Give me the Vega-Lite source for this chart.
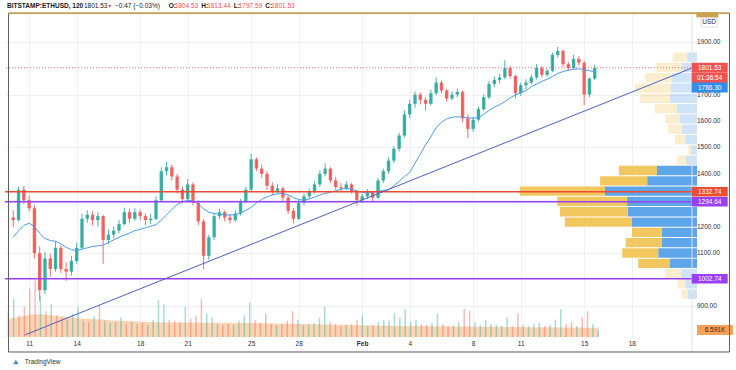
{
  "$schema": "https://vega.github.io/schema/vega-lite/v6.json",
  "width": 692,
  "height": 324,
  "autosize": {"type": "none"},
  "padding": {"left": 5, "top": 13, "right": 39, "bottom": 33},
  "background": "white",
  "config": {"view": {"stroke": null}, "font": "Liberation Sans", "text": {"font": "Liberation Sans"}, "axis": {"labelOverlap": false}},
  "datasets": {
    "candles": [
      {"t":"2021-01-10T00:00","o":1235,"h":1262,"l":1198,"c":1225,"v":22,"ma":1160,"vma":16.5},
      {"t":"2021-01-10T08:00","o":1225,"h":1352,"l":1220,"c":1340,"v":35,"ma":1185,"vma":17.5},
      {"t":"2021-01-10T16:00","o":1340,"h":1355,"l":1285,"c":1300,"v":20,"ma":1205,"vma":18.5},
      {"t":"2021-01-11T00:00","o":1300,"h":1318,"l":1258,"c":1270,"v":28,"ma":1213,"vma":19.5},
      {"t":"2021-01-11T08:00","o":1270,"h":1282,"l":1080,"c":1100,"v":45,"ma":1200,"vma":20.5},
      {"t":"2021-01-11T16:00","o":1100,"h":1125,"l":920,"c":960,"v":52,"ma":1175,"vma":21},
      {"t":"2021-01-12T00:00","o":960,"h":1105,"l":945,"c":1080,"v":38,"ma":1155,"vma":21},
      {"t":"2021-01-12T08:00","o":1080,"h":1098,"l":1010,"c":1040,"v":24,"ma":1148,"vma":20.5},
      {"t":"2021-01-12T16:00","o":1040,"h":1145,"l":1030,"c":1120,"v":30,"ma":1145,"vma":20},
      {"t":"2021-01-13T00:00","o":1120,"h":1130,"l":1025,"c":1040,"v":20,"ma":1135,"vma":19.5},
      {"t":"2021-01-13T08:00","o":1040,"h":1065,"l":995,"c":1030,"v":18,"ma":1122,"vma":19},
      {"t":"2021-01-13T16:00","o":1030,"h":1090,"l":1015,"c":1070,"v":16,"ma":1113,"vma":18.5},
      {"t":"2021-01-14T00:00","o":1070,"h":1140,"l":1060,"c":1120,"v":22,"ma":1110,"vma":18},
      {"t":"2021-01-14T08:00","o":1120,"h":1250,"l":1115,"c":1230,"v":28,"ma":1115,"vma":17.5},
      {"t":"2021-01-14T16:00","o":1230,"h":1262,"l":1215,"c":1245,"v":15,"ma":1120,"vma":17},
      {"t":"2021-01-15T00:00","o":1245,"h":1258,"l":1205,"c":1225,"v":14,"ma":1125,"vma":16.8},
      {"t":"2021-01-15T08:00","o":1225,"h":1255,"l":1200,"c":1240,"v":19,"ma":1128,"vma":16.5},
      {"t":"2021-01-15T16:00","o":1240,"h":1245,"l":1060,"c":1150,"v":30,"ma":1130,"vma":16.2},
      {"t":"2021-01-16T00:00","o":1150,"h":1190,"l":1135,"c":1170,"v":15,"ma":1140,"vma":16},
      {"t":"2021-01-16T08:00","o":1170,"h":1200,"l":1155,"c":1185,"v":13,"ma":1150,"vma":15.6},
      {"t":"2021-01-16T16:00","o":1185,"h":1225,"l":1175,"c":1210,"v":14,"ma":1160,"vma":15.2},
      {"t":"2021-01-17T00:00","o":1210,"h":1272,"l":1205,"c":1255,"v":18,"ma":1168,"vma":15},
      {"t":"2021-01-17T08:00","o":1255,"h":1268,"l":1215,"c":1230,"v":12,"ma":1176,"vma":14.8},
      {"t":"2021-01-17T16:00","o":1230,"h":1270,"l":1222,"c":1255,"v":14,"ma":1185,"vma":14.5},
      {"t":"2021-01-18T00:00","o":1255,"h":1265,"l":1225,"c":1240,"v":12,"ma":1190,"vma":14.3},
      {"t":"2021-01-18T08:00","o":1240,"h":1250,"l":1205,"c":1225,"v":13,"ma":1196,"vma":14},
      {"t":"2021-01-18T16:00","o":1225,"h":1248,"l":1210,"c":1230,"v":11,"ma":1202,"vma":13.8},
      {"t":"2021-01-19T00:00","o":1230,"h":1315,"l":1225,"c":1300,"v":16,"ma":1208,"vma":13.7},
      {"t":"2021-01-19T08:00","o":1300,"h":1425,"l":1295,"c":1410,"v":34,"ma":1225,"vma":13.6},
      {"t":"2021-01-19T16:00","o":1410,"h":1445,"l":1395,"c":1425,"v":30,"ma":1245,"vma":13.6},
      {"t":"2021-01-20T00:00","o":1425,"h":1435,"l":1375,"c":1390,"v":16,"ma":1265,"vma":13.5},
      {"t":"2021-01-20T08:00","o":1390,"h":1400,"l":1325,"c":1340,"v":15,"ma":1284,"vma":13.5},
      {"t":"2021-01-20T16:00","o":1340,"h":1352,"l":1290,"c":1305,"v":14,"ma":1294,"vma":13.5},
      {"t":"2021-01-21T00:00","o":1305,"h":1380,"l":1298,"c":1360,"v":28,"ma":1300,"vma":13.4},
      {"t":"2021-01-21T08:00","o":1360,"h":1368,"l":1280,"c":1290,"v":17,"ma":1298,"vma":13.4},
      {"t":"2021-01-21T16:00","o":1290,"h":1300,"l":1205,"c":1220,"v":20,"ma":1285,"vma":13.3},
      {"t":"2021-01-22T00:00","o":1220,"h":1228,"l":1040,"c":1090,"v":35,"ma":1268,"vma":13.3},
      {"t":"2021-01-22T08:00","o":1090,"h":1170,"l":1075,"c":1160,"v":22,"ma":1255,"vma":13.3},
      {"t":"2021-01-22T16:00","o":1160,"h":1252,"l":1150,"c":1240,"v":18,"ma":1250,"vma":13.2},
      {"t":"2021-01-23T00:00","o":1240,"h":1268,"l":1228,"c":1255,"v":12,"ma":1247,"vma":13.2},
      {"t":"2021-01-23T08:00","o":1255,"h":1262,"l":1220,"c":1235,"v":11,"ma":1245,"vma":13.2},
      {"t":"2021-01-23T16:00","o":1235,"h":1248,"l":1212,"c":1225,"v":12,"ma":1244,"vma":13.1},
      {"t":"2021-01-24T00:00","o":1225,"h":1262,"l":1218,"c":1250,"v":11,"ma":1245,"vma":13.1},
      {"t":"2021-01-24T08:00","o":1250,"h":1305,"l":1242,"c":1295,"v":15,"ma":1252,"vma":13},
      {"t":"2021-01-24T16:00","o":1295,"h":1352,"l":1288,"c":1340,"v":20,"ma":1262,"vma":13},
      {"t":"2021-01-25T00:00","o":1340,"h":1475,"l":1335,"c":1455,"v":32,"ma":1273,"vma":13},
      {"t":"2021-01-25T08:00","o":1455,"h":1462,"l":1410,"c":1420,"v":16,"ma":1290,"vma":12.9},
      {"t":"2021-01-25T16:00","o":1420,"h":1435,"l":1385,"c":1400,"v":13,"ma":1303,"vma":12.8},
      {"t":"2021-01-26T00:00","o":1400,"h":1410,"l":1340,"c":1355,"v":22,"ma":1313,"vma":12.7},
      {"t":"2021-01-26T08:00","o":1355,"h":1368,"l":1320,"c":1335,"v":12,"ma":1320,"vma":12.6},
      {"t":"2021-01-26T16:00","o":1335,"h":1362,"l":1325,"c":1345,"v":11,"ma":1324,"vma":12.5},
      {"t":"2021-01-27T00:00","o":1345,"h":1352,"l":1298,"c":1310,"v":12,"ma":1326,"vma":12.4},
      {"t":"2021-01-27T08:00","o":1310,"h":1318,"l":1248,"c":1260,"v":15,"ma":1320,"vma":12.3},
      {"t":"2021-01-27T16:00","o":1260,"h":1270,"l":1212,"c":1230,"v":24,"ma":1310,"vma":12.2},
      {"t":"2021-01-28T00:00","o":1230,"h":1302,"l":1225,"c":1290,"v":16,"ma":1303,"vma":12.1},
      {"t":"2021-01-28T08:00","o":1290,"h":1325,"l":1280,"c":1315,"v":11,"ma":1300,"vma":12},
      {"t":"2021-01-28T16:00","o":1315,"h":1345,"l":1305,"c":1335,"v":12,"ma":1305,"vma":11.9},
      {"t":"2021-01-29T00:00","o":1335,"h":1372,"l":1325,"c":1360,"v":13,"ma":1312,"vma":11.8},
      {"t":"2021-01-29T08:00","o":1360,"h":1412,"l":1350,"c":1400,"v":18,"ma":1320,"vma":11.7},
      {"t":"2021-01-29T16:00","o":1400,"h":1440,"l":1390,"c":1420,"v":28,"ma":1326,"vma":11.6},
      {"t":"2021-01-30T00:00","o":1420,"h":1425,"l":1365,"c":1375,"v":14,"ma":1330,"vma":11.5},
      {"t":"2021-01-30T08:00","o":1375,"h":1388,"l":1340,"c":1350,"v":12,"ma":1336,"vma":11.4},
      {"t":"2021-01-30T16:00","o":1350,"h":1365,"l":1330,"c":1345,"v":10,"ma":1342,"vma":11.3},
      {"t":"2021-01-31T00:00","o":1345,"h":1372,"l":1338,"c":1360,"v":11,"ma":1345,"vma":11.2},
      {"t":"2021-01-31T08:00","o":1360,"h":1366,"l":1325,"c":1335,"v":12,"ma":1342,"vma":11.1},
      {"t":"2021-01-31T16:00","o":1335,"h":1340,"l":1280,"c":1300,"v":16,"ma":1335,"vma":11},
      {"t":"2021-02-01T00:00","o":1300,"h":1325,"l":1290,"c":1315,"v":20,"ma":1330,"vma":10.9},
      {"t":"2021-02-01T08:00","o":1315,"h":1342,"l":1305,"c":1330,"v":10,"ma":1327,"vma":10.8},
      {"t":"2021-02-01T16:00","o":1330,"h":1336,"l":1295,"c":1310,"v":11,"ma":1330,"vma":10.7},
      {"t":"2021-02-02T00:00","o":1310,"h":1385,"l":1305,"c":1375,"v":14,"ma":1334,"vma":10.6},
      {"t":"2021-02-02T08:00","o":1375,"h":1420,"l":1365,"c":1410,"v":16,"ma":1337,"vma":10.5},
      {"t":"2021-02-02T16:00","o":1410,"h":1462,"l":1400,"c":1450,"v":15,"ma":1340,"vma":10.4},
      {"t":"2021-02-03T00:00","o":1450,"h":1505,"l":1440,"c":1495,"v":22,"ma":1355,"vma":10.3},
      {"t":"2021-02-03T08:00","o":1495,"h":1555,"l":1485,"c":1545,"v":18,"ma":1372,"vma":10.3},
      {"t":"2021-02-03T16:00","o":1545,"h":1640,"l":1538,"c":1625,"v":26,"ma":1390,"vma":10.2},
      {"t":"2021-02-04T00:00","o":1625,"h":1680,"l":1610,"c":1665,"v":14,"ma":1405,"vma":10.2},
      {"t":"2021-02-04T08:00","o":1665,"h":1712,"l":1650,"c":1700,"v":16,"ma":1440,"vma":10.1},
      {"t":"2021-02-04T16:00","o":1700,"h":1708,"l":1662,"c":1680,"v":12,"ma":1475,"vma":10.1},
      {"t":"2021-02-05T00:00","o":1680,"h":1690,"l":1640,"c":1665,"v":11,"ma":1510,"vma":10},
      {"t":"2021-02-05T08:00","o":1665,"h":1718,"l":1658,"c":1705,"v":13,"ma":1540,"vma":10},
      {"t":"2021-02-05T16:00","o":1705,"h":1765,"l":1698,"c":1745,"v":22,"ma":1575,"vma":10},
      {"t":"2021-02-06T00:00","o":1745,"h":1752,"l":1705,"c":1715,"v":12,"ma":1595,"vma":9.9},
      {"t":"2021-02-06T08:00","o":1715,"h":1722,"l":1672,"c":1685,"v":10,"ma":1608,"vma":9.9},
      {"t":"2021-02-06T16:00","o":1685,"h":1712,"l":1678,"c":1700,"v":11,"ma":1614,"vma":9.8},
      {"t":"2021-02-07T00:00","o":1700,"h":1722,"l":1690,"c":1710,"v":14,"ma":1616,"vma":9.8},
      {"t":"2021-02-07T08:00","o":1710,"h":1715,"l":1595,"c":1610,"v":26,"ma":1614,"vma":9.7},
      {"t":"2021-02-07T16:00","o":1610,"h":1625,"l":1535,"c":1570,"v":24,"ma":1612,"vma":9.7},
      {"t":"2021-02-08T00:00","o":1570,"h":1615,"l":1560,"c":1605,"v":14,"ma":1611,"vma":9.6},
      {"t":"2021-02-08T08:00","o":1605,"h":1655,"l":1598,"c":1645,"v":11,"ma":1612,"vma":9.6},
      {"t":"2021-02-08T16:00","o":1645,"h":1700,"l":1638,"c":1690,"v":16,"ma":1625,"vma":9.5},
      {"t":"2021-02-09T00:00","o":1690,"h":1752,"l":1682,"c":1740,"v":12,"ma":1640,"vma":9.5},
      {"t":"2021-02-09T08:00","o":1740,"h":1768,"l":1728,"c":1755,"v":11,"ma":1652,"vma":9.4},
      {"t":"2021-02-09T16:00","o":1755,"h":1778,"l":1742,"c":1765,"v":10,"ma":1662,"vma":9.4},
      {"t":"2021-02-10T00:00","o":1765,"h":1830,"l":1758,"c":1800,"v":18,"ma":1673,"vma":9.3},
      {"t":"2021-02-10T08:00","o":1800,"h":1808,"l":1760,"c":1770,"v":10,"ma":1688,"vma":9.3},
      {"t":"2021-02-10T16:00","o":1770,"h":1775,"l":1685,"c":1705,"v":22,"ma":1698,"vma":9.2},
      {"t":"2021-02-11T00:00","o":1705,"h":1745,"l":1695,"c":1735,"v":11,"ma":1708,"vma":9.2},
      {"t":"2021-02-11T08:00","o":1735,"h":1758,"l":1720,"c":1745,"v":10,"ma":1715,"vma":9.1},
      {"t":"2021-02-11T16:00","o":1745,"h":1775,"l":1738,"c":1765,"v":12,"ma":1730,"vma":9.1},
      {"t":"2021-02-12T00:00","o":1765,"h":1815,"l":1758,"c":1800,"v":13,"ma":1740,"vma":9},
      {"t":"2021-02-12T08:00","o":1800,"h":1808,"l":1765,"c":1775,"v":10,"ma":1750,"vma":9},
      {"t":"2021-02-12T16:00","o":1775,"h":1798,"l":1768,"c":1790,"v":11,"ma":1758,"vma":9},
      {"t":"2021-02-13T00:00","o":1790,"h":1858,"l":1785,"c":1850,"v":16,"ma":1768,"vma":8.9},
      {"t":"2021-02-13T08:00","o":1850,"h":1880,"l":1840,"c":1865,"v":26,"ma":1780,"vma":8.9},
      {"t":"2021-02-13T16:00","o":1865,"h":1870,"l":1805,"c":1815,"v":12,"ma":1787,"vma":8.8},
      {"t":"2021-02-14T00:00","o":1815,"h":1825,"l":1790,"c":1800,"v":14,"ma":1792,"vma":8.8},
      {"t":"2021-02-14T08:00","o":1800,"h":1850,"l":1795,"c":1835,"v":10,"ma":1796,"vma":8.7},
      {"t":"2021-02-14T16:00","o":1835,"h":1845,"l":1810,"c":1820,"v":18,"ma":1797,"vma":8.7},
      {"t":"2021-02-15T00:00","o":1820,"h":1828,"l":1660,"c":1700,"v":24,"ma":1795,"vma":8.6},
      {"t":"2021-02-15T08:00","o":1700,"h":1765,"l":1690,"c":1760,"v":12,"ma":1790,"vma":8.6},
      {"t":"2021-02-15T16:00","o":1760,"h":1813.44,"l":1755,"c":1801.53,"v":6.591,"ma":1786.3,"vma":8.5}
    ],
    "profile": [
      {"lo":1824,"hi":1863,"buy":14,"total":35,"va":false},
      {"lo":1785,"hi":1824,"buy":22,"total":59,"va":false},
      {"lo":1746,"hi":1785,"buy":36,"total":75,"va":false},
      {"lo":1707,"hi":1746,"buy":38,"total":90,"va":false},
      {"lo":1668,"hi":1707,"buy":39,"total":82,"va":false},
      {"lo":1629,"hi":1668,"buy":29,"total":61,"va":false},
      {"lo":1590,"hi":1629,"buy":25,"total":46,"va":false},
      {"lo":1551,"hi":1590,"buy":22,"total":42,"va":false},
      {"lo":1512,"hi":1551,"buy":17,"total":32,"va":false},
      {"lo":1473,"hi":1512,"buy":9,"total":13,"va":false},
      {"lo":1434,"hi":1473,"buy":16,"total":29,"va":false},
      {"lo":1395,"hi":1434,"buy":58,"total":113,"va":true},
      {"lo":1356,"hi":1395,"buy":72,"total":140,"va":true},
      {"lo":1317,"hi":1356,"buy":133,"total":256,"va":true},
      {"lo":1278,"hi":1317,"buy":101,"total":202,"va":true},
      {"lo":1239,"hi":1278,"buy":100,"total":198,"va":true},
      {"lo":1200,"hi":1239,"buy":94,"total":191,"va":true},
      {"lo":1161,"hi":1200,"buy":51,"total":94,"va":true},
      {"lo":1122,"hi":1161,"buy":51,"total":103,"va":true},
      {"lo":1083,"hi":1122,"buy":56,"total":108,"va":true},
      {"lo":1044,"hi":1083,"buy":39,"total":85,"va":true},
      {"lo":1005,"hi":1044,"buy":23,"total":46,"va":false},
      {"lo":966,"hi":1005,"buy":17,"total":28,"va":false},
      {"lo":927,"hi":966,"buy":13,"total":22,"va":false}
    ],
    "levels": [
      {"name":"Resistance","p":1332.74},
      {"name":"Support","p":1294.64},
      {"name":"Support 2","p":1002.74}
    ],
    "priceTicks": [
      {"p":900},{"p":1000},{"p":1100},{"p":1200},{"p":1300},{"p":1400},
      {"p":1500},{"p":1600},{"p":1700},{"p":1800},{"p":1900}
    ],
    "trend": [
      {"t":"2021-01-10T17:25","p":790.3},
      {"t":"2021-02-21T19:12","p":1800.5}
    ]
  },
  "layer": [
    {
      "data": {"name": "profile"},
      "layer": [
        {
          "mark": {"type": "rect", "color": "#5fa5ea", "y2Offset": 1},
          "encoding": {
            "x": {"field": "buy", "type": "quantitative", "scale": {"domain": [0, 1000], "reverse": true, "nice": false, "zero": true}, "axis": null},
            "x2": {"datum": 0},
            "y": {"field": "lo", "type": "quantitative", "scale": {"domain": [782.7, 2008.6], "nice": false, "zero": false}, "axis": null},
            "y2": {"field": "hi"},
            "opacity": {"condition": {"test": "datum.va", "value": 1}, "value": 0.3}
          }
        },
        {
          "mark": {"type": "rect", "color": "#f2c760", "y2Offset": 1},
          "encoding": {
            "x": {"field": "total", "type": "quantitative", "axis": null},
            "x2": {"field": "buy"},
            "y": {"field": "lo", "type": "quantitative", "axis": null},
            "y2": {"field": "hi"},
            "opacity": {"condition": {"test": "datum.va", "value": 1}, "value": 0.3}
          }
        }
      ]
    },
    {
      "layer": [
        {
          "data": {"name": "candles"},
          "mark": {"type": "area", "color": "#f7a35c", "opacity": 0.45},
          "encoding": {
            "x": {"field": "t", "type": "temporal", "scale": {"domain": [{"year":2021,"month":1,"date":9,"hours":19,"minutes":3}, {"year":2021,"month":2,"date":21,"hours":19,"minutes":12}], "nice": false}, "axis": null},
            "y": {"field": "vma", "type": "quantitative", "scale": {"domain": [0, 300], "nice": false, "zero": true}, "axis": null}
          }
        },
        {
          "data": {"name": "candles"},
          "mark": {"type": "rule", "strokeWidth": 1.5, "opacity": 0.4},
          "encoding": {
            "x": {"field": "t", "type": "temporal", "axis": null},
            "y": {"field": "v", "type": "quantitative", "axis": null},
            "y2": {"datum": 0},
            "color": {"condition": {"test": "datum.c >= datum.o", "value": "#26a69a"}, "value": "#ef5350"}
          }
        },
        {
          "data": {"values": [{}]},
          "mark": {"type": "tick", "orient": "horizontal", "size": 36, "thickness": 10, "color": "#f5a15a", "opacity": 1},
          "encoding": {
            "x": {"datum": {"year":2021,"month":2,"date":22,"hours":22}, "type": "temporal", "axis": null},
            "y": {"datum": 6.591, "type": "quantitative", "axis": null}
          }
        },
        {
          "data": {"values": [{}]},
          "mark": {"type": "text", "fontSize": 6.5, "color": "#3a2410", "baseline": "middle"},
          "encoding": {
            "x": {"datum": {"year":2021,"month":2,"date":22,"hours":22}, "type": "temporal", "axis": null},
            "y": {"datum": 6.591, "type": "quantitative", "axis": null},
            "text": {"value": "6.591K"}
          }
        }
      ]
    },
    {
      "layer": [
        {
          "data": {"name": "candles"},
          "mark": {"type": "rule", "strokeWidth": 1, "opacity": 0.85},
          "encoding": {
            "x": {"field": "t", "type": "temporal",
              "scale": {"domain": [{"year":2021,"month":1,"date":9,"hours":19,"minutes":3}, {"year":2021,"month":2,"date":21,"hours":19,"minutes":12}], "nice": false},
              "axis": {
                "orient": "bottom",
                "values": [
                  {"year":2021,"month":1,"date":11},{"year":2021,"month":1,"date":14},{"year":2021,"month":1,"date":18},
                  {"year":2021,"month":1,"date":21},{"year":2021,"month":1,"date":25},{"year":2021,"month":1,"date":28},
                  {"year":2021,"month":2,"date":1},{"year":2021,"month":2,"date":4},{"year":2021,"month":2,"date":8},
                  {"year":2021,"month":2,"date":11},{"year":2021,"month":2,"date":15},{"year":2021,"month":2,"date":18}
                ],
                "labelExpr": "date(datum.value) == 1 ? timeFormat(datum.value, '%b') : timeFormat(datum.value, '%-d')",
                "labelFontWeight": {"condition": {"test": "date(datum.value) == 1", "value": "bold"}, "value": "normal"},
                "title": null, "grid": true, "gridColor": "#eef0f4", "ticks": false, "domain": false,
                "labelFontSize": 6.5, "labelColor": "#2a2e39", "labelPadding": 3, "labelOverlap": false, "labelFont": "Liberation Sans"
              }
            },
            "y": {"field": "l", "type": "quantitative",
              "scale": {"domain": [782.7, 2008.6], "nice": false, "zero": false},
              "axis": {
                "orient": "right", "values": [900,1000,1100,1200,1300,1400,1500,1600,1700,1800,1900,2000],
                "title": null, "grid": true, "gridColor": "#eef0f4", "ticks": false, "domain": false, "labels": false
              }
            },
            "y2": {"field": "h"},
            "color": {"condition": {"test": "datum.c >= datum.o", "value": "#26a69a"}, "value": "#ef5350"}
          }
        },
        {
          "data": {"name": "candles"},
          "mark": {"type": "bar", "width": 3.4, "opacity": 0.85},
          "encoding": {
            "x": {"field": "t", "type": "temporal"},
            "y": {"field": "o", "type": "quantitative"},
            "y2": {"field": "c"},
            "color": {"condition": {"test": "datum.c >= datum.o", "value": "#26a69a"}, "value": "#ef5350"}
          }
        },
        {
          "data": {"name": "candles"},
          "mark": {"type": "line", "color": "#4b9ef2", "strokeWidth": 1},
          "encoding": {
            "x": {"field": "t", "type": "temporal"},
            "y": {"field": "ma", "type": "quantitative"}
          }
        },
        {
          "data": {"name": "levels"},
          "mark": {"type": "rule", "strokeWidth": 1.5},
          "encoding": {
            "y": {"field": "p", "type": "quantitative"},
            "color": {"field": "name", "type": "nominal", "scale": {"domain": ["Resistance", "Support", "Support 2"], "range": ["#ef4a32", "#9b3ff2", "#9b3ff2"]}, "legend": null}
          }
        },
        {
          "data": {"name": "trend"},
          "mark": {"type": "line", "color": "#4e60c2", "strokeWidth": 1},
          "encoding": {
            "x": {"field": "t", "type": "temporal"},
            "y": {"field": "p", "type": "quantitative"}
          }
        },
        {
          "data": {"values": [{}]},
          "mark": {"type": "rule", "color": "#ef5350", "strokeWidth": 0.8, "strokeDash": [1, 2]},
          "encoding": {"y": {"datum": 1801.53, "type": "quantitative"}}
        },
        {
          "data": {"name": "priceTicks"},
          "mark": {"type": "text", "fontSize": 6.5, "color": "#2a2e39", "align": "left", "baseline": "middle"},
          "encoding": {
            "x": {"datum": {"year":2021,"month":2,"date":22,"hours":2,"minutes":42}, "type": "temporal"},
            "y": {"field": "p", "type": "quantitative"},
            "text": {"field": "p", "type": "quantitative", "format": ".2f"}
          }
        },
        {
          "data": {"values": [{}]},
          "mark": {"type": "rule", "color": "#e0e3eb", "strokeWidth": 1},
          "encoding": {
            "x": {"datum": {"year":2021,"month":2,"date":21,"hours":19,"minutes":12}, "type": "temporal"},
            "y": {"datum": 2008.6, "type": "quantitative"},
            "y2": {"datum": 726}
          }
        },
        {
          "data": {"values": [{}]},
          "mark": {"type": "rule", "color": "#5d5d5d", "strokeWidth": 1},
          "encoding": {
            "x": {"datum": {"year":2021,"month":1,"date":9,"hours":16,"minutes":49}, "type": "temporal"},
            "y": {"datum": 2008.6, "type": "quantitative"},
            "y2": {"datum": 726}
          }
        },
        {
          "data": {"values": [{}]},
          "mark": {"type": "rule", "color": "#5d5d5d", "strokeWidth": 1},
          "encoding": {
            "x": {"datum": {"year":2021,"month":2,"date":24,"hours":3,"minutes":54}, "type": "temporal"},
            "y": {"datum": 2008.6, "type": "quantitative"},
            "y2": {"datum": 726}
          }
        },
        {
          "data": {"values": [{}]},
          "mark": {"type": "rule", "color": "#5d5d5d", "strokeWidth": 1},
          "encoding": {
            "x": {"datum": {"year":2021,"month":1,"date":9,"hours":16,"minutes":49}, "type": "temporal"},
            "x2": {"datum": {"year":2021,"month":2,"date":24,"hours":3,"minutes":54}},
            "y": {"datum": 726, "type": "quantitative"}
          }
        },
        {
          "data": {"values": [{}]},
          "mark": {"type": "rule", "color": "#c4a055", "strokeWidth": 1.6},
          "encoding": {
            "x": {"datum": {"year":2021,"month":1,"date":9,"hours":16,"minutes":49}, "type": "temporal"},
            "x2": {"datum": {"year":2021,"month":2,"date":24,"hours":3,"minutes":54}},
            "y": {"datum": 2008.3, "type": "quantitative"}
          }
        },
        {
          "data": {"values": [{}]},
          "mark": {"type": "tick", "orient": "horizontal", "size": 22, "thickness": 5, "color": "#c9a24f", "opacity": 1},
          "encoding": {
            "x": {"datum": {"year":2021,"month":2,"date":22,"hours":18,"minutes":24}, "type": "temporal"},
            "y": {"datum": 2001.5, "type": "quantitative"}
          }
        },
        {
          "data": {"values": [{}]},
          "mark": {"type": "tick", "orient": "horizontal", "size": 16, "thickness": 9, "color": "white", "stroke": "#cfd2d8", "strokeWidth": 0.7, "opacity": 1},
          "encoding": {
            "x": {"datum": {"year":2021,"month":2,"date":22,"hours":21}, "type": "temporal"},
            "y": {"datum": 1972.7, "type": "quantitative"}
          }
        },
        {
          "data": {"values": [{}]},
          "mark": {"type": "text", "fontSize": 6.5, "color": "#2a2e39", "baseline": "middle"},
          "encoding": {
            "x": {"datum": {"year":2021,"month":2,"date":22,"hours":21}, "type": "temporal"},
            "y": {"datum": 1972.7, "type": "quantitative"},
            "text": {"value": "USD"}
          }
        },
        {
          "data": {"name": "levels"},
          "mark": {"type": "tick", "orient": "horizontal", "size": 36, "thickness": 9.5, "opacity": 1},
          "encoding": {
            "x": {"datum": {"year":2021,"month":2,"date":22,"hours":22}, "type": "temporal"},
            "y": {"field": "p", "type": "quantitative"},
            "color": {"field": "name", "type": "nominal", "legend": null}
          }
        },
        {
          "data": {"name": "levels"},
          "mark": {"type": "text", "fontSize": 6.5, "color": "white", "baseline": "middle"},
          "encoding": {
            "x": {"datum": {"year":2021,"month":2,"date":22,"hours":22}, "type": "temporal"},
            "y": {"field": "p", "type": "quantitative"},
            "text": {"field": "p", "type": "quantitative", "format": ".2f"}
          }
        },
        {
          "data": {"values": [{}]},
          "mark": {"type": "tick", "orient": "horizontal", "size": 36, "thickness": 10, "color": "#ef5350", "opacity": 1},
          "encoding": {
            "x": {"datum": {"year":2021,"month":2,"date":22,"hours":22}, "type": "temporal"},
            "y": {"datum": 1801.53, "type": "quantitative"}
          }
        },
        {
          "data": {"values": [{}]},
          "mark": {"type": "text", "fontSize": 6.5, "color": "white", "baseline": "middle"},
          "encoding": {
            "x": {"datum": {"year":2021,"month":2,"date":22,"hours":22}, "type": "temporal"},
            "y": {"datum": 1801.53, "type": "quantitative"},
            "text": {"value": "1801.53"}
          }
        },
        {
          "data": {"values": [{}]},
          "mark": {"type": "tick", "orient": "horizontal", "size": 36, "thickness": 10, "color": "#ef5350", "opacity": 1},
          "encoding": {
            "x": {"datum": {"year":2021,"month":2,"date":22,"hours":22}, "type": "temporal"},
            "y": {"datum": 1762.7, "type": "quantitative"}
          }
        },
        {
          "data": {"values": [{}]},
          "mark": {"type": "text", "fontSize": 6.5, "color": "white", "baseline": "middle"},
          "encoding": {
            "x": {"datum": {"year":2021,"month":2,"date":22,"hours":22}, "type": "temporal"},
            "y": {"datum": 1762.7, "type": "quantitative"},
            "text": {"value": "01:36:54"}
          }
        },
        {
          "data": {"values": [{}]},
          "mark": {"type": "tick", "orient": "horizontal", "size": 36, "thickness": 10, "color": "#2f8ff0", "opacity": 1},
          "encoding": {
            "x": {"datum": {"year":2021,"month":2,"date":22,"hours":22}, "type": "temporal"},
            "y": {"datum": 1726.7, "type": "quantitative"}
          }
        },
        {
          "data": {"values": [{}]},
          "mark": {"type": "text", "fontSize": 6.5, "color": "white", "baseline": "middle"},
          "encoding": {
            "x": {"datum": {"year":2021,"month":2,"date":22,"hours":22}, "type": "temporal"},
            "y": {"datum": 1726.7, "type": "quantitative"},
            "text": {"value": "1786.30"}
          }
        },
        {
          "data": {"values": [{}]},
          "mark": {"type": "text", "fontSize": 6.5, "fontWeight": "bold", "color": "#131722", "align": "left", "baseline": "middle"},
          "encoding": {
            "x": {"datum": {"year":2021,"month":1,"date":9,"hours":14,"minutes":34}, "type": "temporal"},
            "y": {"datum": 2035, "type": "quantitative"},
            "text": {"value": "BITSTAMP:ETHUSD, 120"}
          }
        },
        {
          "data": {"values": [{}]},
          "mark": {"type": "text", "fontSize": 6.5, "color": "#131722", "align": "left", "baseline": "middle"},
          "encoding": {
            "x": {"datum": {"year":2021,"month":1,"date":14,"hours":10,"minutes":54}, "type": "temporal"},
            "y": {"datum": 2035, "type": "quantitative"},
            "text": {"value": "1801.53"}
          }
        },
        {
          "data": {"values": [{}]},
          "mark": {"type": "text", "fontSize": 5.5, "color": "#ef5350", "align": "left", "baseline": "middle"},
          "encoding": {
            "x": {"datum": {"year":2021,"month":1,"date":15,"hours":22}, "type": "temporal"},
            "y": {"datum": 2035, "type": "quantitative"},
            "text": {"value": "▼"}
          }
        },
        {
          "data": {"values": [{}]},
          "mark": {"type": "text", "fontSize": 6.5, "color": "#131722", "align": "left", "baseline": "middle"},
          "encoding": {
            "x": {"datum": {"year":2021,"month":1,"date":16,"hours":10}, "type": "temporal"},
            "y": {"datum": 2035, "type": "quantitative"},
            "text": {"value": "−0.47 (−0.03%)"}
          }
        },
        {
          "data": {"values": [{}]},
          "mark": {"type": "text", "fontSize": 6.5, "fontWeight": "bold", "color": "#131722", "align": "left", "baseline": "middle"},
          "encoding": {
            "x": {"datum": {"year":2021,"month":1,"date":19,"hours":19,"minutes":12}, "type": "temporal"},
            "y": {"datum": 2035, "type": "quantitative"},
            "text": {"value": "O:"}
          }
        },
        {
          "data": {"values": [{}]},
          "mark": {"type": "text", "fontSize": 6.5, "color": "#ef5350", "align": "left", "baseline": "middle"},
          "encoding": {
            "x": {"datum": {"year":2021,"month":1,"date":20,"hours":4,"minutes":12}, "type": "temporal"},
            "y": {"datum": 2035, "type": "quantitative"},
            "text": {"value": "1804.53"}
          }
        },
        {
          "data": {"values": [{}]},
          "mark": {"type": "text", "fontSize": 6.5, "fontWeight": "bold", "color": "#131722", "align": "left", "baseline": "middle"},
          "encoding": {
            "x": {"datum": {"year":2021,"month":1,"date":21,"hours":20,"minutes":24}, "type": "temporal"},
            "y": {"datum": 2035, "type": "quantitative"},
            "text": {"value": "H:"}
          }
        },
        {
          "data": {"values": [{}]},
          "mark": {"type": "text", "fontSize": 6.5, "color": "#ef5350", "align": "left", "baseline": "middle"},
          "encoding": {
            "x": {"datum": {"year":2021,"month":1,"date":22,"hours":5,"minutes":24}, "type": "temporal"},
            "y": {"datum": 2035, "type": "quantitative"},
            "text": {"value": "1813.44"}
          }
        },
        {
          "data": {"values": [{}]},
          "mark": {"type": "text", "fontSize": 6.5, "fontWeight": "bold", "color": "#131722", "align": "left", "baseline": "middle"},
          "encoding": {
            "x": {"datum": {"year":2021,"month":1,"date":23,"hours":21,"minutes":42}, "type": "temporal"},
            "y": {"datum": 2035, "type": "quantitative"},
            "text": {"value": "L:"}
          }
        },
        {
          "data": {"values": [{}]},
          "mark": {"type": "text", "fontSize": 6.5, "color": "#ef5350", "align": "left", "baseline": "middle"},
          "encoding": {
            "x": {"datum": {"year":2021,"month":1,"date":24,"hours":5,"minutes":6}, "type": "temporal"},
            "y": {"datum": 2035, "type": "quantitative"},
            "text": {"value": "1797.59"}
          }
        },
        {
          "data": {"values": [{}]},
          "mark": {"type": "text", "fontSize": 6.5, "fontWeight": "bold", "color": "#131722", "align": "left", "baseline": "middle"},
          "encoding": {
            "x": {"datum": {"year":2021,"month":1,"date":25,"hours":21,"minutes":24}, "type": "temporal"},
            "y": {"datum": 2035, "type": "quantitative"},
            "text": {"value": "C:"}
          }
        },
        {
          "data": {"values": [{}]},
          "mark": {"type": "text", "fontSize": 6.5, "color": "#ef5350", "align": "left", "baseline": "middle"},
          "encoding": {
            "x": {"datum": {"year":2021,"month":1,"date":26,"hours":6,"minutes":18}, "type": "temporal"},
            "y": {"datum": 2035, "type": "quantitative"},
            "text": {"value": "1801.53"}
          }
        },
        {
          "data": {"values": [{}]},
          "mark": {"type": "point", "shape": "triangle-up", "filled": true, "size": 28, "color": "#3a8ee6", "opacity": 1},
          "encoding": {
            "x": {"datum": {"year":2021,"month":1,"date":10,"hours":4}, "type": "temporal"},
            "y": {"datum": 688, "type": "quantitative"}
          }
        },
        {
          "data": {"values": [{}]},
          "mark": {"type": "text", "fontSize": 6.5, "color": "#2a2e39", "align": "left", "baseline": "middle"},
          "encoding": {
            "x": {"datum": {"year":2021,"month":1,"date":10,"hours":17,"minutes":25}, "type": "temporal"},
            "y": {"datum": 688, "type": "quantitative"},
            "text": {"value": "TradingView"}
          }
        }
      ]
    }
  ],
  "resolve": {"scale": {"x": "independent", "y": "independent"}}
}
